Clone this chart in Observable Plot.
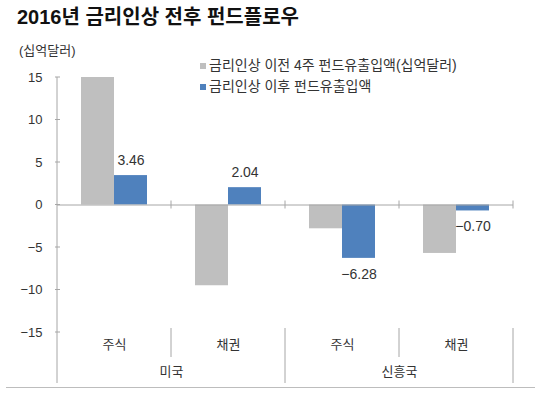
<!DOCTYPE html>
<html><head><meta charset="utf-8">
<script src="https://cdn.jsdelivr.net/npm/d3@7"></script>
<script src="https://cdn.jsdelivr.net/npm/@observablehq/plot@0.6"></script>
<style>
body{margin:0;background:#fff;}
#wrap{position:relative;width:540px;height:394px;overflow:hidden;font-family:"Liberation Sans","Noto Sans CJK KR",sans-serif;color:#333;}
#chart{position:absolute;left:0;top:0;}
#title{position:absolute;left:17px;top:3px;font-size:20px;font-weight:bold;color:#111;white-space:nowrap;line-height:28px;}
#unit{position:absolute;left:19px;top:41px;font-size:13px;line-height:20px;white-space:nowrap;}
.leg{position:absolute;left:200px;font-size:14px;line-height:18px;white-space:nowrap;}
.sw{display:inline-block;width:6px;height:6px;margin-right:3px;vertical-align:1px;}
#border{position:absolute;left:6px;top:387px;width:529px;height:0;border-top:1px solid #bdbdbd;}
</style></head>
<body>
<div id="wrap">
  <div id="chart"></div>
  <div id="title">2016년 금리인상 전후 펀드플로우</div>
  <div id="unit">(십억달러)</div>
  <div id="legend"></div>
  <div id="border"></div>
</div>
<script>
const regions = ["미국", "미국", "신흥국", "신흥국"];
const assets = ["주식", "채권", "주식", "채권"];
const beforeValues = [15, -9.5, -2.8, -5.7];
const afterValues = [3.46, 2.04, -6.28, -0.70];
const yTicks = [-15, -10, -5, 0, 5, 10, 15];
const seriesNames = ["금리인상 이전 4주 펀드유출입액(십억달러)", "금리인상 이후 펀드유출입액"];
const seriesColors = ["#bfbfbf", "#4f81bd"];

const W = 540, H = 394;
const mL = 57, mR = 27, mT = 77, mB = 62;
const bw = (W - mL - mR) / regions.length;
const barW = 33;

const keys = regions.map((r, i) => r + "|" + assets[i]);
const rows = keys.map((k, i) => ({key: k, region: regions[i], asset: assets[i], before: beforeValues[i], after: afterValues[i]}));
const regionRows = Array.from(d3.group(rows, d => d.region), ([region, rs]) => ({region, key: rs[0].key}));
const fmt = d3.format(".2f");

// legend
const leg = document.getElementById("legend");
seriesNames.forEach((name, i) => {
  const d = document.createElement("div");
  d.className = "leg";
  d.style.top = (56 + i * 21) + "px";
  d.innerHTML = `<span class="sw" style="background:${seriesColors[i]}"></span>${name}`;
  leg.appendChild(d);
});

function axisLines(index, scales) {
  const x = scales.x, y = scales.y;
  const b = typeof x.bandwidth === "function" ? x.bandwidth() : (x.bandwidth || bw);
  const g = d3.create("svg:g").attr("stroke", "#a6a6a6").attr("fill", "none").attr("stroke-width", 1);
  const x0 = x(keys[0]);
  const yTop = y(yTicks[yTicks.length - 1]), yBot = y(yTicks[0]), yZero = y(0);
  g.append("line").attr("x1", x0).attr("x2", x0).attr("y1", yTop).attr("y2", yBot + 51);
  yTicks.forEach(t => {
    g.append("line").attr("x1", x0 - 2).attr("x2", x0 + 3).attr("y1", y(t)).attr("y2", y(t));
  });
  keys.forEach((k, i) => {
    const xr = x(k) + b;
    const next = keys[i + 1];
    const outer = !next || rows[i + 1].region !== rows[i].region;
    g.append("line").attr("x1", xr).attr("x2", xr).attr("y1", yZero - 4).attr("y2", yZero + 4);
    g.append("line").attr("x1", xr).attr("x2", xr).attr("y1", yBot - 4).attr("y2", outer ? yBot + 51 : yBot + 25);
  });
  return g.node();
}

const chart = Plot.plot({
  width: W, height: H,
  marginLeft: mL, marginRight: mR, marginTop: mT, marginBottom: mB,
  style: {fontFamily: '"Liberation Sans","Noto Sans CJK KR",sans-serif', fontSize: "13px", color: "#333", background: "transparent", overflow: "visible"},
  x: {type: "band", domain: keys, paddingInner: 0, paddingOuter: 0, axis: null},
  y: {domain: [-15, 15], nice: false, axis: null},
  marks: [
    Plot.barY(rows, {x: "key", y: "before", fill: seriesColors[0], insetLeft: bw / 2 - barW, insetRight: bw / 2}),
    Plot.barY(rows, {x: "key", y: "after", fill: seriesColors[1], insetLeft: bw / 2, insetRight: bw / 2 - barW}),
    Plot.ruleY([0], {stroke: "#a6a6a6"}),
    Plot.axisY({ticks: yTicks, tickSize: 0, tickPadding: 15, tickFormat: d3.format("d"), fontSize: 13, label: null, anchor: "left"}),
    Plot.text(rows.filter(d => d.after >= 0), {x: "key", y: "after", text: d => fmt(d.after), dx: barW / 2, dy: -15, fontSize: 14, fill: "#333"}),
    Plot.text(rows.filter(d => d.after < 0), {x: "key", y: "after", text: d => fmt(d.after), dx: barW / 2, dy: 16, fontSize: 14, fill: "#333"}),
    Plot.text(rows, {x: "key", text: "asset", frameAnchor: "bottom", dy: 16, fontSize: 13, fill: "#333"}),
    Plot.text(regionRows, {x: "key", text: "region", frameAnchor: "bottom", dy: 43, dx: bw / 2, fontSize: 13, fill: "#333"}),
    axisLines
  ]
});
document.getElementById("chart").appendChild(chart);
</script>
</body></html>
